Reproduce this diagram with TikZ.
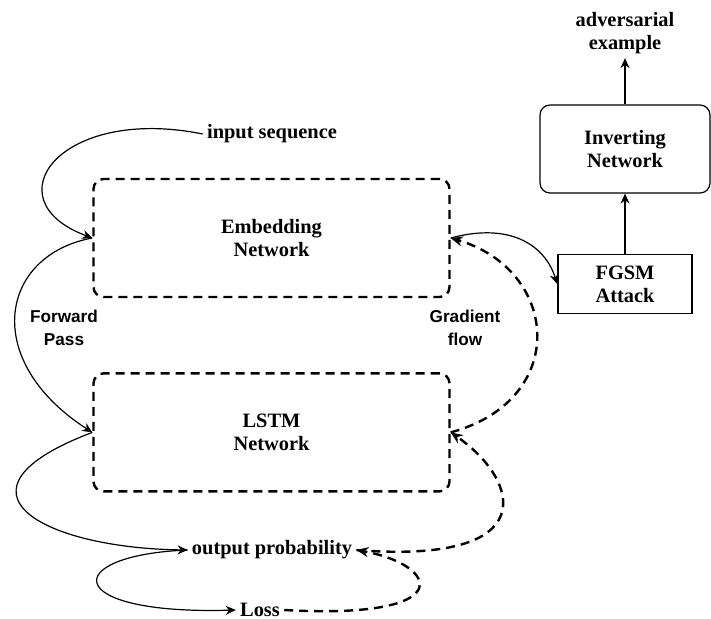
\documentclass[tikz,border=0pt]{standalone}
\usepackage{fontspec}
\setmainfont{Liberation Serif}
\setsansfont{Liberation Sans}
\usetikzlibrary{arrows.meta, positioning}
\tikzset{
  netbox/.style={draw, dash pattern=on 4.5pt off 3pt, rounded corners=5pt, line width=1.2pt,
      minimum width=178pt, minimum height=59pt, align=center,
      font=\bfseries\fontsize{10.2}{11.5}\selectfont},
  invbox/.style={draw, rounded corners=5pt, line width=0.6pt, minimum width=85pt,
      minimum height=44pt, align=center, font=\bfseries\fontsize{10.2}{11.5}\selectfont},
  atkbox/.style={draw, line width=0.8pt, minimum width=67pt, minimum height=29.5pt,
      align=center, font=\bfseries\fontsize{10.2}{11.5}\selectfont},
  lbl/.style={inner sep=2pt, align=center, font=\bfseries\fontsize{10.2}{11.5}\selectfont},
  sidelbl/.style={inner sep=2pt, align=center, font=\sffamily\bfseries\fontsize{8.6}{11.5}\selectfont},
  fwdarrow/.style={-{Stealth[length=5pt, width=4.5pt]}, line width=0.6pt},
  gradarrow/.style={-{Stealth[length=6pt, width=5pt, open]}, line width=1.2pt,
      dash pattern=on 4.5pt off 3pt},
}

\begin{document}
\begin{tikzpicture}[x=0.5pt, y=-0.5pt]
  \useasboundingbox[fill=white] (0,0) rectangle (711,618);
  % networks being attacked
  \node[netbox] (embed) at (271.5,238) {Embedding\\Network};
  \node[netbox, below=37pt of embed] (lstm) {LSTM\\Network};
  \node[lbl] (input) at (272,134) {input sequence};
  \node[lbl] (outprob) at (272,550) {output probability};
  \node[lbl] (loss) at (260,610) {Loss};
  \node[sidelbl] (fwd) at (64,328) {Forward\\Pass};
  \node[sidelbl] (grad) at (465,328) {Gradient\\flow};
  % attack side
  \node[atkbox] (fgsm) at (625,284) {FGSM\\Attack};
  \node[invbox] (inv) at (625,149) {Inverting\\Network};
  \node[lbl] (adv) at (625,33) {adversarial\\example};

  % forward pass
  \draw[fwdarrow] (input.west) .. controls (60,105) and (-10,200) .. (embed.west);
  \draw[fwdarrow] (embed.west) .. controls (0,255) and (-20,360) .. (lstm.west);
  \draw[fwdarrow] (lstm.west) .. controls (-60,490) and (40,548) .. (outprob.west);
  \draw[fwdarrow] (outprob.west) .. controls (60,555) and (60,615) .. (loss.west);
  % gradient flow
  \draw[gradarrow] (loss.east) .. controls (460,620) and (440,565) .. (outprob.east);
  \draw[gradarrow] (outprob.east) .. controls (545,565) and (520,480) .. (lstm.east);
  \draw[gradarrow] (lstm.east) .. controls (570,400) and (560,270) .. (embed.east);
  % attack
  \draw[fwdarrow] (embed.east) .. controls (510,222) and (545,245) .. (fgsm.west);
  \draw[fwdarrow] (fgsm) -- (inv);
  \draw[fwdarrow] (inv) -- (adv);
\end{tikzpicture}
\end{document}
